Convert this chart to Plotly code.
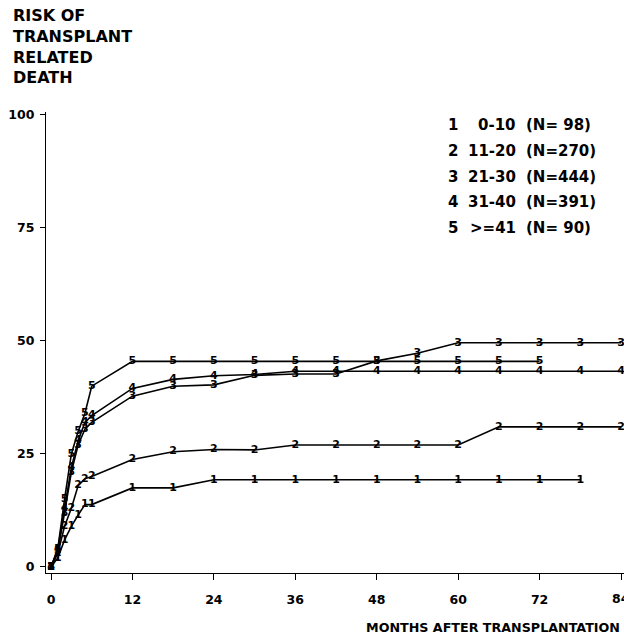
import plotly.graph_objects as go

months = [0, 1, 2, 3, 4, 5, 6, 12, 18, 24, 30, 36, 42, 48, 54, 60, 66, 72, 78, 84]

risk_1 = [0, 2, 6, 9, 11.5, 13.8, 13.8, 17.5, 17.5, 19.3, 19.3, 19.3, 19.3, 19.3, 19.3, 19.3, 19.3, 19.3, 19.3]
risk_2 = [0, 3, 9, 13, 18, 19.5, 20, 23.8, 25.5, 26, 25.9, 27, 27, 27, 27, 27, 31, 31, 31, 31]
risk_3 = [0, 3.5, 12, 21, 27, 30.5, 32, 37.8, 40, 40.3, 42.4, 42.7, 42.7, 45.6, 47.3, 49.6, 49.6, 49.6, 49.6, 49.6]
risk_4 = [0, 4, 13, 22, 28, 32, 33.5, 39.5, 41.5, 42.3, 42.6, 43.3, 43.3, 43.3, 43.3, 43.3, 43.3, 43.3, 43.3, 43.3]
risk_5 = [0, 4, 15, 25, 30, 34, 40, 45.5, 45.5, 45.5, 45.5, 45.5, 45.5, 45.5, 45.5, 45.5, 45.5, 45.5]

series_ids = ["1", "2", "3", "4", "5"]
age_groups = ["0-10", "11-20", "21-30", "31-40", ">=41"]
group_n = ["(N= 98)", "(N=270)", "(N=444)", "(N=391)", "(N= 90)"]

x_ticks = [0, 12, 24, 36, 48, 60, 72]
x_last_tick = 84
y_ticks = [0, 25, 50, 75, 100]

W, H = 624, 638
L, R, T, B = 46, 0, 112, 65
FONT = "DejaVu Sans"

fig = go.Figure()
for sid, ys in zip(series_ids, [risk_1, risk_2, risk_3, risk_4, risk_5]):
    xs = months[:len(ys)]
    fig.add_trace(go.Scatter(
        x=xs, y=ys, mode="lines+text", text=[sid] * len(ys),
        textposition="middle center",
        textfont=dict(family=FONT, size=11, color="black", weight="bold"),
        line=dict(color="black", width=1.6),
        cliponaxis=False, showlegend=False, hoverinfo="skip",
    ))

def px_x(p):
    return (p - L) / (W - L - R)

def px_y(p):
    return (H - B - p) / (H - T - B)

ann = []
ann.append(dict(text="<b>RISK OF<br>TRANSPLANT<br>RELATED<br>DEATH</b>", xref="paper", yref="paper",
                x=px_x(11), y=px_y(4), xanchor="left", yanchor="top", align="left",
                showarrow=False, font=dict(family=FONT, size=16, color="black")))
ann.append(dict(text="<b>MONTHS AFTER TRANSPLANTATION</b>", xref="paper", yref="paper",
                x=px_x(622), y=px_y(627), xanchor="right", yanchor="middle",
                showarrow=False, font=dict(family=FONT, size=12.7, color="black")))
# last x tick label (84) partly cut by the right edge, as in the reference
ann.append(dict(text="<b>%d</b>" % x_last_tick, xref="x", yref="paper", x=x_last_tick, y=px_y(598),
                xanchor="center", yanchor="middle", showarrow=False,
                font=dict(family=FONT, size=12.5, color="black")))
leg_y0, leg_dy = 125, 25.8
for i, (sid, ag, n) in enumerate(zip(series_ids, age_groups, group_n)):
    yy = px_y(leg_y0 + i * leg_dy)
    f = dict(family=FONT, size=15, color="black")
    ann.append(dict(text="<b>%s</b>" % sid, xref="paper", yref="paper", x=px_x(446), y=yy,
                    xanchor="left", yanchor="middle", showarrow=False, font=f))
    ann.append(dict(text="<b>%s</b>" % ag, xref="paper", yref="paper", x=px_x(518), y=yy,
                    xanchor="right", yanchor="middle", showarrow=False, font=f))
    ann.append(dict(text="<b>%s</b>" % n, xref="paper", yref="paper", x=px_x(524), y=yy,
                    xanchor="left", yanchor="middle", showarrow=False, font=f))

fig.update_layout(
    width=W, height=H, margin=dict(l=L, r=R, t=T, b=B, pad=0),
    paper_bgcolor="white", plot_bgcolor="white",
    annotations=ann,
    xaxis=dict(range=[-0.737, 84.44], tickvals=x_ticks + [x_last_tick],
               ticktext=["<b>%d</b>" % v for v in x_ticks] + [""],
               ticks="outside", ticklen=6,
               tickcolor="black", showline=True, linecolor="black", linewidth=1.2,
               showgrid=False, zeroline=False, ticklabelstandoff=9,
               tickfont=dict(family=FONT, size=12.5, color="black")),
    yaxis=dict(range=[-1.33, 100.66], tickvals=y_ticks,
               ticktext=["<b>%d</b>" % v for v in y_ticks],
               ticks="outside", ticklen=5,
               tickcolor="black", showline=True, linecolor="black", linewidth=1.2,
               showgrid=False, zeroline=False, ticklabelstandoff=3,
               tickfont=dict(family=FONT, size=12.5, color="black")),
)

fig.write_html("out.html")
